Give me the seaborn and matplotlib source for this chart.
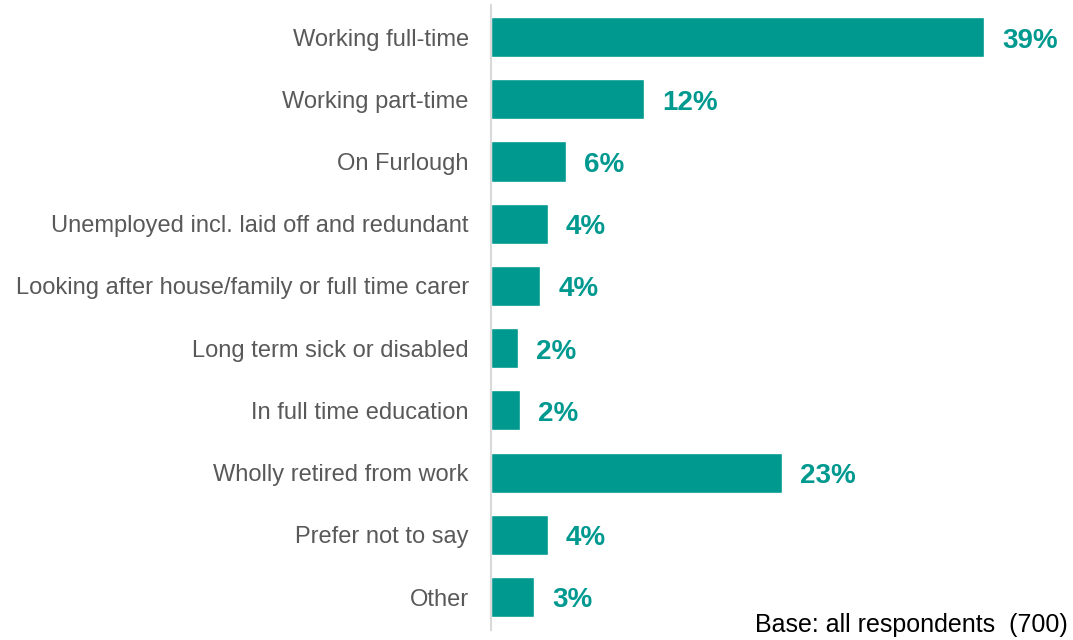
import matplotlib
matplotlib.use('Agg')
import pandas as pd
import seaborn as sns
from matplotlib import pyplot as plt

categories = ['Working full-time', 'Working part-time', 'On Furlough',
              'Unemployed incl. laid off and redundant',
              'Looking after house/family or full time carer',
              'Long term sick or disabled', 'In full time education',
              'Wholly retired from work', 'Prefer not to say', 'Other']
values = [39.0, 12.1, 5.9, 4.5, 3.9, 2.1, 2.3, 23.0, 4.5, 3.4]
labels = ['39%', '12%', '6%', '4%', '4%', '2%', '2%', '23%', '4%', '3%']
base_note = 'Base: all respondents  (700)'

teal = '#009990'

sns.set_style('white')
plt.rcParams['font.family'] = ['Liberation Sans', 'DejaVu Sans']

dane = pd.DataFrame({'kategoria': categories, 'procent': values})

fig = plt.figure(figsize=(10.73, 6.4), dpi=100)
ax = fig.add_axes([491 / 1073, 10 / 640, 1 - 491 / 1073, 625 / 640])

sns.barplot(data=dane, y='kategoria', x='procent', color=teal, saturation=1,
            width=0.645, ax=ax, orient='h')

# etykiety wartości przy końcach słupków
for bar, txt in zip(ax.patches, labels):
    ax.annotate(txt, (bar.get_width(), bar.get_y() + bar.get_height() / 2),
                xytext=(13, -2.5), textcoords='offset points', va='center', ha='left',
                fontsize=20, fontweight='bold', color=teal, annotation_clip=False)

ax.set_xlim(0, 46)
ax.set_ylim(9.53, -0.515)
ax.set_xlabel('')
ax.set_ylabel('')
ax.set_xticks([])
for s in ['top', 'right', 'bottom']:
    ax.spines[s].set_visible(False)
ax.spines['left'].set_color('#d9d9d9')
ax.spines['left'].set_linewidth(1.5)
ax.tick_params(axis='y', length=0, pad=16, labelsize=17, labelcolor='#595959')

fig.text(1068 / 1073, 3 / 640, base_note, ha='right', va='bottom', fontsize=18, color='black')

fig.savefig('out.png', dpi=100)
